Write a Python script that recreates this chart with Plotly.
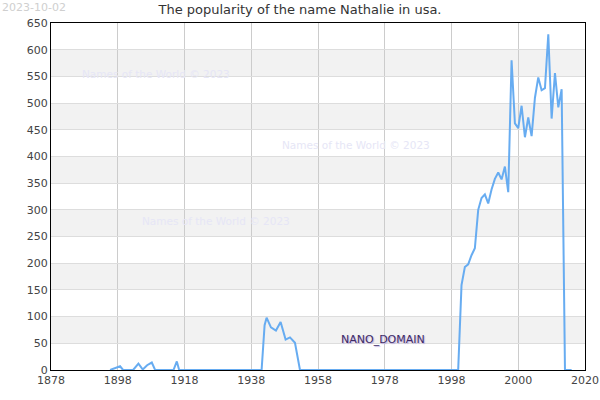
import plotly.graph_objects as go

# ---- data ----
early_years = [1895.7, 1898.7, 1899.6, 1902.6, 1904.2, 1905.5, 1906.8, 1908.2, 1909.2,
               1914.7, 1915.7, 1916.4, 1941.1, 1942.0, 1942.6, 1943.9, 1945.4, 1946.8,
               1948.3, 1949.6, 1951.1, 1952.6]
early_values = [0, 7, 0, 0, 12, 1, 9, 14, 0,
                0, 16, 0, 0, 84, 98, 80, 74, 90,
                57, 61, 51, 0]
recent_years = list(range(2000, 2035))
recent_values = [0, 159, 193, 198, 215, 228, 300, 322, 329, 312,
                 338, 358, 370, 357, 381, 333, 580, 462, 453, 495,
                 436, 473, 438, 510, 548, 524, 528, 629, 471, 556,
                 492, 526, 0, 0, 0]
years = early_years + recent_years
values = early_values + recent_values

x_tickvals = [1878, 1898, 1918, 1938, 1958, 1978, 1998, 2018, 2038]
x_ticktext = ["1878", "1898", "1918", "1938", "1958", "1978", "1998", "2000", "2020"]
y_tickvals = list(range(0, 651, 50))

title = "The popularity of the name Nathalie in usa."
date_text = "2023-10-02"
watermark = "Names of the World © 2023"

FONT = "DejaVu Sans"

fig = go.Figure()
fig.add_trace(go.Scatter(
    x=years, y=values, mode="lines",
    line=dict(color="rgba(95,168,240,0.95)", width=2),
    hoverinfo="x+y", showlegend=False,
))

# alternating horizontal bands
shapes = []
for i, v in enumerate(y_tickvals[:-1]):
    if i % 2 == 1:
        shapes.append(dict(type="rect", xref="paper", yref="y", x0=0, x1=1,
                           y0=v, y1=v + 50, fillcolor="#f2f2f2",
                           line=dict(width=0), layer="below"))

annotations = [
    dict(text=date_text, xref="paper", yref="paper", x=-0.0955, y=1.045,
         xanchor="left", yanchor="middle", showarrow=False,
         font=dict(family=FONT, size=11, color="#cfcfcf")),
    dict(text=watermark, xref="x", yref="y", x=1909.5, y=555,
         showarrow=False, font=dict(family=FONT, size=10.5, color="#e6e6f6")),
    dict(text=watermark, xref="x", yref="y", x=1969.4, y=421,
         showarrow=False, font=dict(family=FONT, size=10.5, color="#e6e6f6")),
    dict(text=watermark, xref="x", yref="y", x=1927.4, y=279,
         showarrow=False, font=dict(family=FONT, size=10.5, color="#e6e6f6")),
    dict(text="NANO_DOMAIN", xref="x", yref="y", x=1977.5, y=58,
         showarrow=False,
         font=dict(family=FONT, size=11, color="#3e2c66",
                   shadow="1px 1px 1px #b9a8dc")),
]

fig.update_layout(
    width=600, height=400,
    margin=dict(l=51, r=15, t=23, b=30, autoexpand=False),
    paper_bgcolor="white", plot_bgcolor="white",
    title=dict(text=title, x=0.5, xanchor="center", y=0.977, yanchor="middle",
               font=dict(family=FONT, size=13, color="#333333")),
    font=dict(family=FONT, size=11, color="#444444"),
    shapes=shapes, annotations=annotations,
    xaxis=dict(range=[1878, 2038], tickmode="array", tickvals=x_tickvals,
               ticktext=x_ticktext, showgrid=True, gridcolor="#cccccc",
               gridwidth=1, showline=True, linecolor="black", linewidth=1,
               mirror=True, zeroline=False, ticks="", ticklen=0,
               automargin=False,
               tickfont=dict(family=FONT, size=11, color="#444444")),
    yaxis=dict(range=[0, 650], tickmode="array", tickvals=y_tickvals,
               showgrid=True, gridcolor="#dddddd", gridwidth=1,
               showline=True, linecolor="black", linewidth=1, mirror=True,
               zeroline=False, ticks="", automargin=False,
               tickfont=dict(family=FONT, size=11, color="#444444")),
)

fig.write_html("out.html")
